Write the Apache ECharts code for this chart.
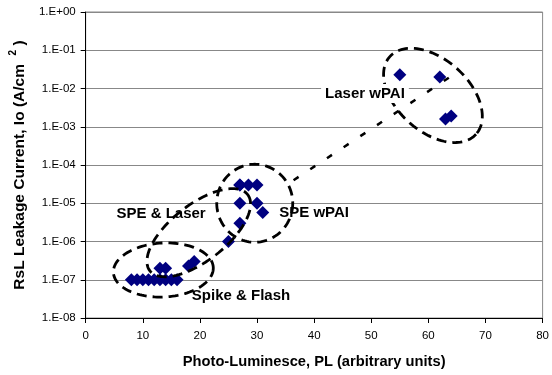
<!DOCTYPE html>
<html><head><meta charset="utf-8">
<script src="https://cdn.jsdelivr.net/npm/echarts/dist/echarts.min.js"></script>
<style>html,body{margin:0;padding:0;background:#fff}#c{width:552px;height:375px}</style>
</head><body><div id="c"></div>
<script>
// Data (x = Photo-Luminescence, y = leakage current A/cm^2)
const photoLum = [8, 9, 10, 11, 12, 13, 14, 15, 16, 13, 14, 18, 19, 25, 27, 27, 30, 31, 27, 28.5, 30, 27, 55, 62, 63, 64];
const leakage  = [1e-7, 1e-7, 1e-7, 1e-7, 1e-7, 1e-7, 1e-7, 1e-7, 1e-7, 2e-7, 2e-7, 2.3e-7, 3e-7, 1e-6, 3e-6, 1e-5, 1e-5, 5.7e-6, 3e-5, 3e-5, 3e-5, 3e-5, 2.3e-2, 2e-2, 1.6e-3, 1.9e-3];
const xTicks = [0, 10, 20, 30, 40, 50, 60, 70, 80];
const yTickExponents = [-8, -7, -6, -5, -4, -3, -2, -1, 0];

// Annotations (data coordinates)
const trendX = [36.4, 64];
const trendY = [4e-5, 2.1e-2];
const groupNames = ['Spike & Flash', 'SPE & Laser', 'SPE wPAI', 'Laser wPAI'];
const groupLabelX = [27.2, 13.2, 40.0, 48.9];
const groupLabelY = [3.9e-8, 5.2e-6, 5.5e-6, 7.4e-3];
const ellipseCX = [13.6, 19.8, 29.6, 60.8];
const ellipseCY = [1.8e-7, 1.7e-6, 1e-5, 6.6e-3];

const FONT = 'Arial, "Liberation Sans", sans-serif';
const chart = echarts.init(document.getElementById('c'), null, {renderer: 'canvas'});

function fmtExp(v) {
  const e = Math.round(Math.log10(v));
  return '1.E' + (e < 0 ? '-' : '+') + String(Math.abs(e)).padStart(2, '0');
}

chart.setOption({
  animation: false,
  grid: {left: 83, right: 5, top: 12, bottom: 57, show: true, borderColor: '#888', borderWidth: 1},
  xAxis: {
    type: 'value', min: xTicks[0], max: xTicks[xTicks.length - 1], interval: 10,
    name: 'Photo-Luminesce, PL (arbitrary units)', nameLocation: 'middle', nameGap: 36,
    nameTextStyle: {fontFamily: FONT, fontWeight: 'bold', fontSize: 14.7, color: '#000'},
    axisLine: {lineStyle: {color: '#000', width: 1}},
    axisTick: {show: true, inside: false, length: 5, lineStyle: {color: '#000'}},
    axisLabel: {fontFamily: FONT, fontSize: 11.5, color: '#000', margin: 12},
    splitLine: {show: false}
  },
  yAxis: {
    type: 'log', logBase: 10,
    min: Math.pow(10, yTickExponents[0]), max: Math.pow(10, yTickExponents[yTickExponents.length - 1]),
    interval: 1, splitNumber: 8,
    name: '{a|RsL Leakage Current, Io (A/cm  }{s|2}{a| )}',
    nameLocation: 'middle', nameGap: 44, nameRotate: 90,
    nameTextStyle: {
      rich: {
        a: {fontFamily: FONT, fontWeight: 'bold', fontSize: 15.5, color: '#000', lineHeight: 20, verticalAlign: 'bottom'},
        s: {fontFamily: FONT, fontWeight: 'bold', fontSize: 10, color: '#000', lineHeight: 20, verticalAlign: 'top'}
      }
    },
    axisLine: {show: true, lineStyle: {color: '#000', width: 1}},
    axisTick: {show: true, inside: false, length: 5, lineStyle: {color: '#000'}},
    axisLabel: {fontFamily: FONT, fontSize: 11.5, color: '#000', margin: 10, formatter: fmtExp},
    splitLine: {show: true, lineStyle: {color: '#888', width: 1}},
    minorTick: {show: false}
  },
  series: [
    {
      type: 'scatter', symbol: 'diamond', symbolSize: 13,
      itemStyle: {color: '#000080', opacity: 1},
      data: photoLum.map((x, i) => [x, leakage[i]]),
      z: 3
    },
    {
      type: 'line', symbol: 'none', silent: true,
      lineStyle: {color: '#000', width: 2.5, type: [6, 14]},
      data: trendX.map((x, i) => [x, trendY[i]]),
      z: 4
    }
  ]
});

// Annotation ellipses (pixel radii) and labels
const ellRx = [50, 62, 38, 58];
const ellRy = [27, 28, 39, 36];
const ellRot = [3, 38, 0, -42]; // degrees, counter-clockwise on screen

const graphics = [];
for (let k = 0; k < ellipseCX.length; k++) {
  const c = chart.convertToPixel({gridIndex: 0}, [ellipseCX[k], ellipseCY[k]]);
  const a = ellRot[k] * Math.PI / 180;
  const pts = [];
  for (let i = 0; i < 120; i++) {
    const t = i / 120 * Math.PI * 2;
    const ex = ellRx[k] * Math.cos(t), ey = ellRy[k] * Math.sin(t);
    pts.push([c[0] + ex * Math.cos(a) + ey * Math.sin(a), c[1] - ex * Math.sin(a) + ey * Math.cos(a)]);
  }
  graphics.push({
    type: 'polygon', z: 50, silent: true,
    shape: {points: pts},
    style: {fill: null, stroke: '#000', lineWidth: 2.8, lineDash: [10, 6]}
  });
}
for (let k = 0; k < groupNames.length; k++) {
  const p = chart.convertToPixel({gridIndex: 0}, [groupLabelX[k], groupLabelY[k]]);
  const st = {
    text: groupNames[k], x: p[0], y: p[1], fill: '#000',
    font: 'bold 15px ' + FONT, align: 'center', verticalAlign: 'middle',
    textAlign: 'center', textVerticalAlign: 'middle'
  };
  if (k === 3) { st.backgroundColor = '#fff'; st.padding = [2, 4]; }
  graphics.push({type: 'text', z: 60, silent: true, style: st});
}
chart.setOption({graphic: graphics});
</script>
</body></html>
